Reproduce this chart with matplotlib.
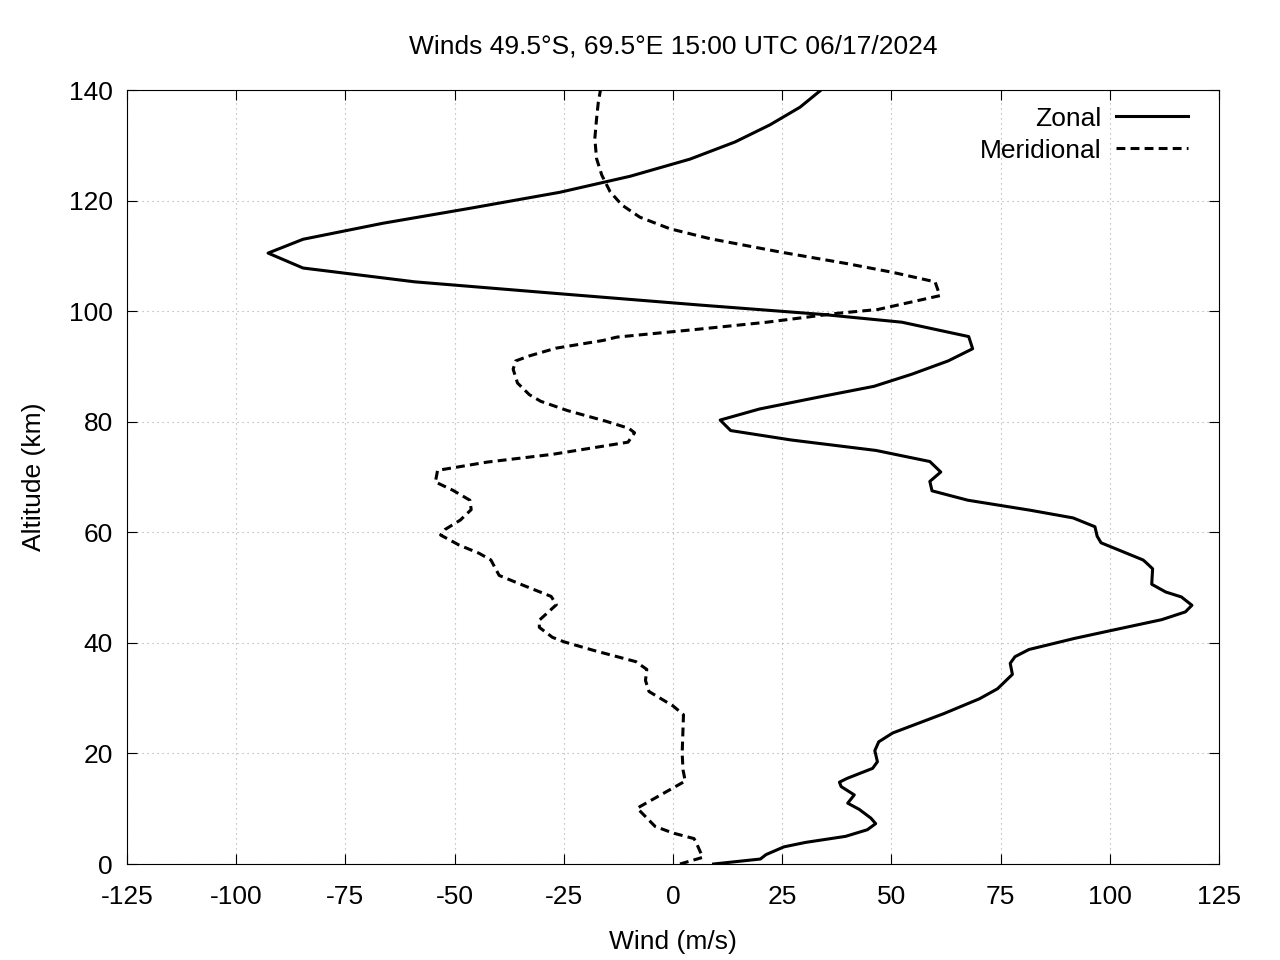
"""
Zonal / meridional wind profile, gnuplot look.
"""

import matplotlib
matplotlib.use("Agg")
import matplotlib.pyplot as plt

# zonal wind (m/s) by altitude (km)
zonal_alt = [0.0, 0.9, 1.7, 3.1, 3.9, 5.0, 6.2, 7.3, 8.3, 9.9, 11.0, 12.5, 14.0, 14.8,
             15.5, 17.3, 18.5, 20.5, 22.1, 23.7, 27.2, 29.9, 31.7, 34.3, 36.3, 37.5,
             38.8, 40.8, 42.2, 44.2, 45.6, 46.8, 48.3, 49.2, 50.6, 53.4, 54.6, 55.0,
             58.1, 59.3, 61.0, 62.6, 64.0, 65.8, 67.5, 69.2, 70.9, 72.8, 74.8, 76.7,
             78.4, 80.3, 82.3, 84.6, 86.4, 88.6, 91.0, 93.2, 95.4, 98.0, 99.4, 101.1,
             103.1, 105.3, 107.8, 110.5, 113.0, 115.9, 118.6, 121.5, 124.4, 127.5,
             130.6, 133.7, 136.9, 140.0]
zonal = [9.3, 20.0, 21.3, 25.4, 30.3, 39.5, 44.5, 46.4, 45.3, 42.6, 40.0, 41.5, 38.5, 38.1,
         39.9, 45.7, 46.8, 46.2, 47.1, 50.3, 62.0, 70.2, 74.3, 77.7, 77.2, 78.3,
         81.5, 91.9, 100.1, 111.9, 117.3, 118.8, 116.4, 112.8, 109.6, 109.8, 108.2, 107.6,
         98.0, 97.1, 96.6, 91.6, 81.7, 67.5, 59.3, 58.8, 61.3, 58.8, 46.5, 27.0,
         13.2, 10.8, 19.8, 34.3, 46.0, 54.7, 63.0, 68.6, 67.7, 52.4, 34.3, 6.2,
         -25.2, -59.1, -84.7, -92.7, -84.7, -66.4, -46.5, -25.9, -9.8, 3.9,
         14.2, 22.2, 29.1, 33.9]

# meridional wind (m/s) by altitude (km)
merid_alt = [0.0, 1.2, 3.9, 4.6, 5.6, 6.8, 10.1, 15.0, 17.0, 20.0, 27.0, 28.6, 31.2,
             33.2, 35.2, 36.6, 38.6, 40.2, 41.0, 42.8, 44.1, 46.9, 48.4, 50.7, 52.2,
             55.0, 56.2, 57.7, 59.5, 60.5, 62.2, 64.1, 65.8, 67.6, 69.1, 71.2, 72.7,
             74.1, 76.3, 78.0, 78.8, 80.1, 82.0, 83.7, 84.9, 87.0, 89.5, 91.0, 91.9,
             93.3, 94.7, 95.3, 96.7, 98.0, 99.6, 100.3, 102.8, 105.3, 107.0, 108.6,
             110.7, 113.1, 114.9, 117.0, 119.2, 121.6, 124.6, 127.6, 131.2, 134.8,
             137.8, 140.0]
meridional = [1.6, 6.8, 5.3, 4.8, 0.0, -4.1, -8.2, 2.8, 2.3, 2.1, 2.4, 0.0, -5.5,
              -6.3, -6.0, -8.5, -18.0, -25.0, -27.6, -30.6, -30.6, -26.7, -27.9, -35.2, -39.8,
              -41.7, -44.4, -49.0, -53.2, -52.2, -48.7, -46.2, -46.5, -50.4, -54.4, -53.9, -42.5,
              -27.6, -10.3, -8.8, -10.1, -15.4, -24.1, -30.3, -32.9, -35.6, -36.6, -36.0, -32.9,
              -26.8, -16.0, -12.9, 5.4, 21.5, 37.5, 46.9, 61.1, 60.0, 50.4, 39.8,
              24.5, 8.5, -0.7, -7.6, -11.7, -14.4, -16.3, -17.5, -17.9, -17.5,
              -17.1, -16.6]

x_ticks = [-125, -100, -75, -50, -25, 0, 25, 50, 75, 100, 125]
y_ticks = [0, 20, 40, 60, 80, 100, 120, 140]

plt.rcParams["font.family"] = ["Liberation Sans", "DejaVu Sans"]
plt.rcParams["font.size"] = 19
plt.rcParams["axes.unicode_minus"] = False

fig = plt.figure(figsize=(12.8, 9.6), dpi=100)
ax = fig.add_axes([127 / 1280, 96 / 960, 1092 / 1280, 774 / 960])

ax.plot(zonal, zonal_alt, color="black", lw=2.2, label="Zonal")
ax.plot(meridional, merid_alt, color="black", lw=2.2, dashes=(2.9, 1.7),
        label="Meridional")

ax.set_xlim(-125, 125)
ax.set_ylim(0, 140)
ax.set_xticks(x_ticks)
ax.set_yticks(y_ticks)
ax.grid(True, color="#a8a8a8", lw=0.8, linestyle=(0, (1, 3.5)))
ax.tick_params(direction="in", length=7, width=0.8, top=True, right=True)
ax.tick_params(axis="x", pad=15)
ax.tick_params(axis="y", pad=10)
for s in ax.spines.values():
    s.set_linewidth(0.8)

ax.set_title("Winds 49.5°S, 69.5°E 15:00 UTC 06/17/2024", fontsize=19, pad=26)
ax.set_xlabel("Wind (m/s)", labelpad=15)
ax.set_ylabel("Altitude (km)", labelpad=17)

ax.legend(loc="upper right", frameon=False, markerfirst=False,
          handlelength=2.73, labelspacing=0.3, borderaxespad=0.1,
          borderpad=0.0, handletextpad=0.55,
          bbox_to_anchor=(1 - 28 / 1092, 1 - 14 / 774))

fig.savefig("out.png", dpi=100)
